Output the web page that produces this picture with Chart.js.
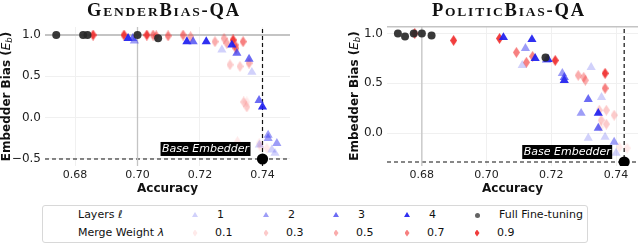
<!DOCTYPE html>
<html>
<head>
<meta charset="utf-8">
<script src="https://cdn.jsdelivr.net/npm/chart.js@4.4.0/dist/chart.umd.min.js"></script>
<style>
body { margin: 0; width: 640px; height: 244px; background: #fff; position: relative; overflow: hidden; font-family: 'DejaVu Sans', sans-serif; }
.box { position: absolute; top: 0; height: 196px; }
#legend { position: absolute; left: 42px; top: 205px; width: 544px; height: 36px; border: 1px solid #d8d8d8; border-radius: 3px; font-size: 11px; color: #111; }
#legend span { position: absolute; line-height: 14px; white-space: nowrap; }
#legend i.mk { position: absolute; display: block; }
</style>
</head>
<body>
<div class="box" style="left:0;width:320px"><canvas id="g_gender" width="320" height="196"></canvas></div>
<div class="box" style="left:320px;width:324px"><canvas id="g_politic" width="324" height="196"></canvas></div>
<div id="legend"></div>
<script>
// legend entries
const layerLabels = ['1', '2', '3', '4'];
const weightLabels = ['0.1', '0.3', '0.5', '0.7', '0.9'];

// GenderBias-QA  [accuracy, embedder bias]
const genderFullFT = [[0.674, 1.0], [0.6826, 1.0], [0.684, 1.0], [0.700, 1.0], [0.7066, 0.96]];
const genderLayer1 = [[0.727, 0.82], [0.7366, 0.55], [0.739, -0.33], [0.743, -0.39], [0.744, -0.43]];
const genderLayer2 = [[0.699, 0.93], [0.7418, -0.21], [0.7418, -0.25], [0.7446, -0.31]];
const genderLayer3 = [[0.6985, 0.96], [0.7178, 0.92], [0.7318, 0.78], [0.7357, 0.71], [0.7389, 0.21]];
const genderLayer4 = [[0.697, 0.96], [0.7158, 0.92], [0.722, 0.92], [0.7302, 0.88], [0.740, 0.13]];
const genderWeight01 = [[0.735, 0.19], [0.732, -0.29], [0.739, -0.31], [0.7393, -0.35], [0.7414, -0.37]];
const genderWeight03 = [[0.7296, 0.64], [0.7328, 0.62], [0.734, 0.19], [0.735, 0.13]];
const genderWeight05 = [[0.717, 0.98], [0.7248, 0.92], [0.7277, 0.96], [0.7286, 0.90], [0.7357, 0.66]];
const genderWeight07 = [[0.705, 1.0], [0.706, 0.99], [0.7098, 0.99], [0.7146, 1.0], [0.7312, 0.88], [0.7315, 0.84], [0.7338, 0.92]];
const genderWeight09 = [[0.6858, 1.0], [0.6957, 1.0], [0.703, 1.0], [0.7306, 0.94]];
const genderBase = [0.740, -0.5];
const genderRef = [0.700, 1.0];

// PoliticBias-QA
const politicFullFT = [[0.6726, 1.0], [0.6748, 0.97], [0.6775, 1.0], [0.680, 1.0], [0.683, 0.98], [0.7182, 0.76]];
const politicLayer1 = [[0.711, 0.68], [0.7323, 0.66], [0.7355, 0.36], [0.7366, -0.04], [0.7314, -0.05], [0.740, -0.20]];
const politicLayer2 = [[0.712, 0.85], [0.7234, 0.60], [0.7292, 0.20], [0.7394, -0.09]];
const politicLayer3 = [[0.7185, 0.735], [0.724, 0.56], [0.7314, 0.34], [0.7345, 0.05]];
const politicLayer4 = [[0.7052, 0.96], [0.714, 0.94], [0.715, 0.75], [0.719, 0.74], [0.724, 0.53], [0.7345, 0.20]];
const politicWeight01 = [[0.7352, 0.06], [0.741, -0.14], [0.7434, -0.15]];
const politicWeight03 = [[0.7348, 0.23], [0.737, 0.23], [0.7354, 0.13], [0.737, 0.09], [0.7394, 0.18]];
const politicWeight05 = [[0.7283, 0.58], [0.730, 0.56], [0.7305, 0.53]];
const politicWeight07 = [[0.7092, 0.81], [0.7142, 0.77], [0.7123, 0.71], [0.7366, 0.45]];
const politicWeight09 = [[0.6778, 1.0], [0.6898, 0.93], [0.704, 0.95], [0.7212, 0.73], [0.7366, 0.60]];
const politicBase = [0.7425, -0.29];
const politicRef = [0.680, 1.07];

const layerColors = ['rgba(70,70,240,0.25)', 'rgba(60,60,240,0.5)', 'rgba(50,50,240,0.72)', 'rgba(30,30,240,0.92)'];
const weightColors = ['rgba(245,90,90,0.13)', 'rgba(245,80,80,0.3)', 'rgba(245,70,70,0.45)', 'rgba(243,60,60,0.65)', 'rgba(240,45,45,0.92)'];
const ftColor = 'rgba(40,40,40,0.92)';

function diamond(color, w, h) {
    let c = document.createElement('canvas');
    c.width = w; c.height = h;
    let x = c.getContext('2d');
    x.fillStyle = color;
    x.beginPath();
    x.moveTo(w / 2, 0); x.lineTo(w, h / 2); x.lineTo(w / 2, h); x.lineTo(0, h / 2);
    x.closePath(); x.fill();
    return c;
}

function pts(arr) {
    return arr.map(p => ({x: p[0], y: p[1]}));
}

// small caps title, y label with subscript, base embedder tag
const extras = {
    id: 'extras',
    afterDraw(chart, args, o) {
        const ctx = chart.ctx, xs = chart.scales.x, ys = chart.scales.y;
        ctx.save();
        // title
        let parts = [];
        for (let ch of o.title) {
            let small = ch !== ch.toUpperCase();
            parts.push({t: ch.toUpperCase(), f: 'bold ' + (small ? 13.5 : 18.5) + 'px "Liberation Serif", serif'});
        }
        let sp = 1.8, total = 0;
        parts.forEach(p => { ctx.font = p.f; p.w = ctx.measureText(p.t).width; total += p.w + sp; });
        total -= sp;
        let x = o.titleX - total / 2;
        ctx.fillStyle = '#111';
        ctx.textBaseline = 'alphabetic';
        ctx.textAlign = 'left';
        parts.forEach(p => { ctx.font = p.f; ctx.fillText(p.t, x, 15.5); x += p.w + sp; });
        // y title
        ctx.save();
        let cy = (chart.chartArea.top + chart.chartArea.bottom) / 2;
        ctx.translate(o.yTitleX, cy);
        ctx.rotate(-Math.PI / 2);
        let seg = [
            {t: 'Embedder Bias (', f: 'bold 12px "DejaVu Sans"', dy: 0},
            {t: 'E', f: 'italic 12px "DejaVu Sans"', dy: 0},
            {t: 'b', f: 'italic 8.5px "DejaVu Sans"', dy: 2.5},
            {t: ')', f: 'bold 12px "DejaVu Sans"', dy: 0}
        ];
        let tw = 0;
        seg.forEach(s => { ctx.font = s.f; s.w = ctx.measureText(s.t).width; tw += s.w; });
        let sx = -tw / 2;
        ctx.textBaseline = 'middle';
        seg.forEach(s => { ctx.font = s.f; ctx.fillText(s.t, sx, s.dy); sx += s.w; });
        ctx.restore();
        // base embedder tag
        let bx = xs.getPixelForValue(o.base[0]), by = ys.getPixelForValue(o.base[1]);
        ctx.font = 'italic 11px "DejaVu Sans"';
        let lw = ctx.measureText('Base Embedder').width;
        let right = bx - 12, bottom = by - 3;
        ctx.fillStyle = '#000';
        ctx.fillRect(right - lw - 3, bottom - 14, lw + 3, 14);
        ctx.fillStyle = '#fff';
        ctx.textAlign = 'right';
        ctx.textBaseline = 'middle';
        ctx.fillText('Base Embedder', right - 1.5, bottom - 6.5);
        ctx.restore();
    }
};

function makeChart(id, d) {
    const lineDs = (data, dash, color, width) => ({
        data: data, showLine: true, borderColor: color, borderWidth: width, borderDash: dash,
        pointRadius: 0, pointHoverRadius: 0, fill: false, order: 20
    });
    let datasets = [];
    d.layers.forEach((arr, i) => datasets.push({
        data: pts(arr), pointStyle: 'triangle', pointRadius: 5.3, backgroundColor: layerColors[i], borderWidth: 0, order: 5
    }));
    d.weights.forEach((arr, i) => datasets.push({
        data: pts(arr), pointStyle: diamond(weightColors[i], 7, 11), pointRadius: 5, order: 6
    }));
    datasets.push({data: pts(d.ft), pointStyle: 'circle', pointRadius: 4, backgroundColor: ftColor, borderWidth: 0, order: 4});
    datasets.push({data: [{x: d.base[0], y: d.base[1]}], pointStyle: 'circle', pointRadius: 5.6, backgroundColor: '#000', borderWidth: 0, order: 1});
    // reference lines
    datasets.push(lineDs([{x: d.ref[0], y: d.ymin}, {x: d.ref[0], y: d.ymax}], [], '#c4c4c4', 1.3));
    datasets.push(lineDs([{x: d.xmin, y: d.ref[1]}, {x: d.xmax, y: d.ref[1]}], [], '#c4c4c4', 2));
    datasets.push(lineDs([{x: d.base[0], y: d.ymin}, {x: d.base[0], y: d.ymax}], [4, 3], '#111', 1.2));
    datasets.push(lineDs([{x: d.xmin, y: d.base[1]}, {x: d.xmax, y: d.base[1]}], [4, 3], '#111', 1.2));

    return new Chart(document.getElementById(id).getContext('2d'), {
        type: 'scatter',
        data: {datasets: datasets},
        options: {
            responsive: false,
            animation: false,
            events: [],
            layout: {padding: {top: d.top, left: 0, right: d.padRight, bottom: 0}},
            plugins: {
                legend: {display: false},
                tooltip: {enabled: false},
                extras: {title: d.title, titleX: d.titleX, yTitleX: d.yTitleX, base: d.base}
            },
            scales: {
                x: {
                    type: 'linear', min: d.xmin, max: d.xmax,
                    grid: {color: '#f0f0f0', drawTicks: false},
                    border: {display: false},
                    ticks: {stepSize: 0.02, includeBounds: false, padding: 3, color: '#222',
                        font: {size: 11, family: '"DejaVu Sans"'},
                        callback: v => v.toFixed(2)},
                    title: {display: true, text: 'Accuracy', color: '#111', padding: {top: 0, bottom: 0},
                        font: {size: 12, weight: 'bold', family: '"DejaVu Sans"'}},
                    afterFit: s => { s.height = 30; s.paddingLeft = 0; s.paddingRight = 0; }
                },
                y: {
                    min: d.ymin, max: d.ymax,
                    grid: {color: '#f0f0f0', drawTicks: false},
                    border: {display: false},
                    ticks: {stepSize: 0.5, includeBounds: false, padding: 4, color: '#222',
                        font: {size: 12, family: '"DejaVu Sans"'},
                        callback: v => (v < 0 ? '\u2212' : '') + Math.abs(v).toFixed(1)},
                    afterFit: s => { s.width = d.yWidth; s.paddingTop = 0; s.paddingBottom = 0; }
                }
            }
        },
        plugins: [extras]
    });
}

window.addEventListener('load', () => {
    makeChart('g_gender', {
        title: 'GenderBias-QA', titleX: 163, yTitleX: 7, yWidth: 45, padRight: 30, top: 27,
        xmin: 0.6704, xmax: 0.7488, ymin: -0.585, ymax: 1.097,
        layers: [genderLayer1, genderLayer2, genderLayer3, genderLayer4],
        weights: [genderWeight01, genderWeight03, genderWeight05, genderWeight07, genderWeight09],
        ft: genderFullFT, base: genderBase, ref: genderRef
    });
    makeChart('g_politic', {
        title: 'PoliticBias-QA', titleX: 188, yTitleX: 35, yWidth: 67, padRight: 0, top: 26,
        xmin: 0.66923, xmax: 0.74677, ymin: -0.33, ymax: 1.075,
        layers: [politicLayer1, politicLayer2, politicLayer3, politicLayer4],
        weights: [politicWeight01, politicWeight03, politicWeight05, politicWeight07, politicWeight09],
        ft: politicFullFT, base: politicBase, ref: politicRef
    });

    // legend (HTML)
    const lg = document.getElementById('legend');
    const add = (html, left, top) => {
        let s = document.createElement('span');
        s.innerHTML = html; s.style.left = left + 'px'; s.style.top = top + 'px';
        lg.appendChild(s);
    };
    const mark = (shape, color, cx, cy) => {
        let m = document.createElement('i');
        m.className = 'mk';
        if (shape === 'tri') {
            m.style.cssText = `left:${cx - 3}px;top:${cy - 3}px;width:6px;height:5px;background:${color};clip-path:polygon(50% 0,100% 100%,0 100%)`;
        } else if (shape === 'dia') {
            m.style.cssText = `left:${cx - 2.5}px;top:${cy - 3.5}px;width:5px;height:7px;background:${color};clip-path:polygon(50% 0,100% 50%,50% 100%,0 50%)`;
        } else {
            m.style.cssText = `left:${cx - 2.5}px;top:${cy - 2.5}px;width:5px;height:5px;border-radius:50%;background:${color}`;
        }
        lg.appendChild(m);
    };
    const r1 = 9, r2 = 27;
    add('Layers <i>ℓ</i>', 35, r1 - 7);
    add('Merge Weight <i>λ</i>', 35, r2 - 7);
    const mx = [152, 223, 293, 364, 434];
    layerLabels.forEach((t, i) => { mark('tri', layerColors[i], mx[i], r1); add(t, mx[i] + 22, r1 - 7); });
    mark('dot', 'rgba(60,60,60,0.8)', mx[4], r1);
    add('Full Fine-tuning', mx[4] + 22, r1 - 7);
    weightLabels.forEach((t, i) => { mark('dia', weightColors[i], mx[i], r2); add(t, mx[i] + 20, r2 - 7); });
});
</script>
</body>
</html>
